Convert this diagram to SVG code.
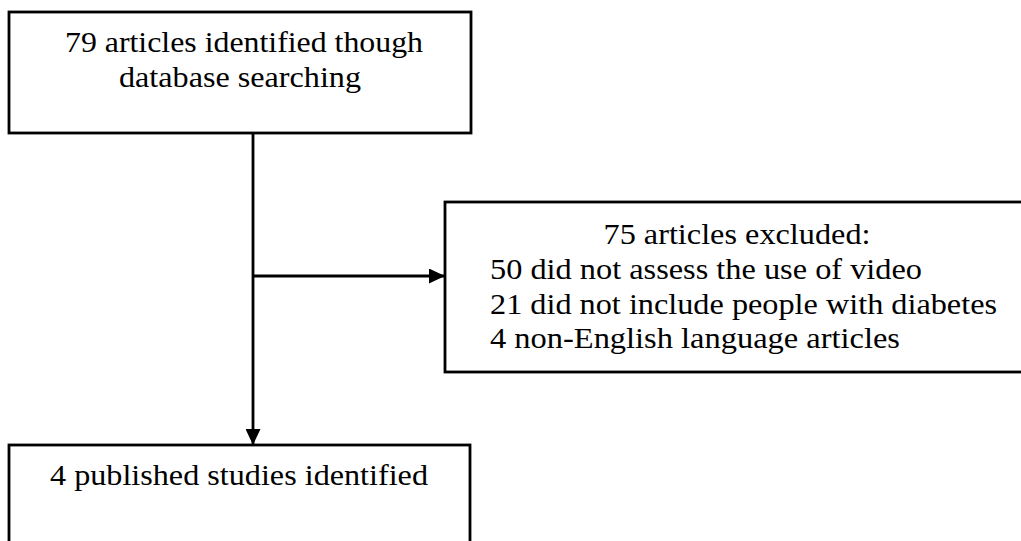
<svg xmlns="http://www.w3.org/2000/svg" width="1021" height="541" viewBox="0 0 1021 541">
<style>
.box{fill:#fff;stroke:#000;stroke-width:2.8}
.t{font-family:"Liberation Serif","Times New Roman",serif;font-size:29px;fill:#000}
.c{text-anchor:middle}
.edge{stroke:#000;stroke-width:2.8;fill:none}
</style>
<defs>
<marker id="ah" markerWidth="16" markerHeight="15" refX="16" refY="7.5" orient="auto" markerUnits="userSpaceOnUse">
<path d="M0,0 L16,7.5 L0,15 Z" fill="#000"/>
</marker>
</defs>
<rect width="1021" height="541" fill="#fff"/>
<g id="edges">
<line class="edge" x1="253" y1="133" x2="253" y2="445" marker-end="url(#ah)"/>
<line class="edge" x1="253" y1="276" x2="445" y2="276" marker-end="url(#ah)"/>
</g>
<g id="n1">
<rect class="box" x="9" y="12" width="462" height="121"/>
<text class="t c" x="244" y="52" textLength="358" lengthAdjust="spacingAndGlyphs">79 articles identified though</text>
<text class="t c" x="240" y="87" textLength="242" lengthAdjust="spacingAndGlyphs">database searching</text>
</g>
<g id="n2">
<rect class="box" x="445" y="202" width="590" height="170"/>
<text class="t c" x="737" y="244" textLength="267" lengthAdjust="spacingAndGlyphs">75 articles excluded:</text>
<text class="t" x="490" y="279" textLength="432" lengthAdjust="spacingAndGlyphs">50 did not assess the use of video</text>
<text class="t" x="490" y="314" textLength="507" lengthAdjust="spacingAndGlyphs">21 did not include people with diabetes</text>
<text class="t" x="490" y="348" textLength="410" lengthAdjust="spacingAndGlyphs">4 non-English language articles</text>
</g>
<g id="n3">
<rect class="box" x="9" y="445" width="461" height="110"/>
<text class="t c" x="239" y="485" textLength="378" lengthAdjust="spacingAndGlyphs">4 published studies identified</text>
</g>
</svg>
